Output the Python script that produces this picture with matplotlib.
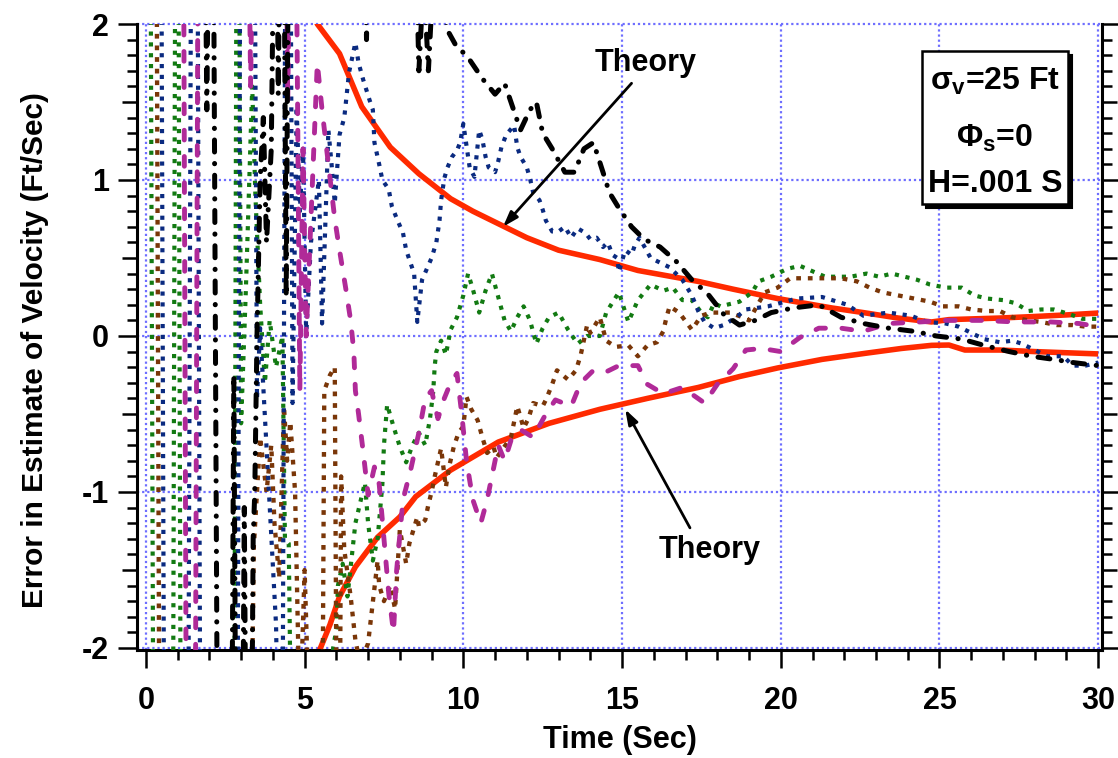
import numpy as np
import matplotlib
matplotlib.use("Agg")
import matplotlib.pyplot as plt
from matplotlib.ticker import MultipleLocator, FixedLocator, FuncFormatter
from matplotlib.patches import Rectangle

plt.rcParams['font.family'] = ['Liberation Sans', 'DejaVu Sans']
plt.rcParams['font.weight'] = 'bold'
plt.rcParams['mathtext.fontset'] = 'custom'
plt.rcParams['mathtext.rm'] = 'Liberation Sans:bold'
plt.rcParams['mathtext.it'] = 'Liberation Sans:bold'
plt.rcParams['mathtext.bf'] = 'Liberation Sans:bold'
plt.rcParams['mathtext.sf'] = 'Liberation Sans:bold'

# ---- theoretical error bounds (Ft/Sec) ----
theory_up_t = [5.3, 5.4, 6.1, 6.8, 7.7, 8.6, 9.6, 10.3, 11.1, 12.0, 13.0, 14.3, 15.5,
               17.4, 18.5, 19.9, 21.6, 22.6, 23.7, 24.75, 25.3, 26.9, 28.0, 29.0, 30.0]
theory_up = [2.07, 2.0, 1.81, 1.47, 1.21, 1.04, 0.88, 0.80, 0.72, 0.63, 0.55, 0.49, 0.42,
             0.35, 0.30, 0.24, 0.18, 0.15, 0.115, 0.09, 0.105, 0.115, 0.125, 0.135, 0.147]
theory_lo_t = [5.4, 5.8, 6.1, 6.6, 7.3, 8.0, 8.5, 9.6, 11.1, 12.7, 14.3, 15.8, 17.4,
               18.7, 19.9, 21.3, 22.7, 23.8, 24.75, 25.3, 25.8, 26.9, 28.0, 30.0]
theory_lo = [-2.05, -1.85, -1.67, -1.48, -1.29, -1.16, -1.03, -0.86, -0.68, -0.56, -0.47,
             -0.40, -0.33, -0.26, -0.205, -0.15, -0.11, -0.08, -0.06, -0.058, -0.09,
             -0.09, -0.10, -0.115]

# ---- simulation runs: (time, velocity error) ----
run_black = [
    (0.0, 3), (1.85, 3), (1.92, 1.45), (1.99, 3), (2.12, 3), (2.26, -3), (2.70, -3),
    (2.77, -0.25), (2.84, -3), (3.04, -3), (3.10, -1.1), (3.16, -3), (3.32, -3),
    (3.38, -1.3), (3.43, -1.0), (3.50, 0.0), (3.60, 1.0), (3.70, 1.4), (3.80, 0.6),
    (3.95, 1.2), (4.05, 3), (4.12, 3), (4.17, 1.55), (4.24, 3), (4.34, 3), (4.42, 0.25),
    (4.50, 3), (6.85, 3), (6.95, 1.9), (7.05, 3), (8.45, 3), (8.60, 1.7), (8.75, 2.3),
    (8.90, 1.7), (9.05, 2.3), (9.3, 2.2), (9.5, 1.96), (9.8, 1.85), (10.1, 1.8),
    (10.6, 1.65), (11.0, 1.55), (11.3, 1.62), (11.6, 1.44), (11.8, 1.32), (12.1, 1.45),
    (12.3, 1.5), (12.5, 1.3), (12.8, 1.2), (13.2, 1.05), (13.5, 1.05), (13.8, 1.2),
    (14.1, 1.24), (14.4, 1.05), (14.6, 0.92), (14.9, 0.82), (15.3, 0.70), (15.7, 0.62),
    (16.2, 0.57), (16.7, 0.48), (17.2, 0.36), (17.7, 0.27), (18.2, 0.14), (18.7, 0.07),
    (19.2, 0.10), (19.7, 0.15), (20.4, 0.18), (21.2, 0.20), (21.9, 0.12), (22.6, 0.08),
    (23.4, 0.05), (24.2, 0.03), (24.9, 0.0), (25.7, -0.02), (26.4, -0.06), (27.2, -0.10),
    (27.9, -0.13), (28.6, -0.15), (29.2, -0.17), (30.0, -0.19)]

run_navy = [
    (0, 3), (0.48, 3), (0.58, -3), (1.33, -3), (1.43, 3), (1.62, 3), (1.72, -3), (2.88, -3),
    (2.98, 3), (3.42, 3), (3.5, -0.4), (3.6, 0.05), (3.85, -0.9), (4.1, -1.85), (4.2, -3),
    (4.3, -3), (4.4, 3), (4.55, 3), (4.62, -0.43), (4.75, 1.47), (4.85, 0.8), (4.95, 1.2),
    (5.05, 0.0), (5.2, 0.6), (5.45, 1.0), (5.55, 0.08), (5.65, 0.7), (5.75, 1.32),
    (5.85, 1.1), (5.95, 0.85), (6.1, 1.29), (6.25, 1.4), (6.4, 1.69), (6.6, 1.88),
    (6.7, 1.75), (6.85, 1.64), (7.05, 1.51), (7.15, 1.45), (7.2, 1.24), (7.35, 1.1),
    (7.45, 1.0), (7.65, 0.94), (7.75, 0.83), (7.95, 0.73), (8.1, 0.66), (8.2, 0.55),
    (8.45, 0.4), (8.55, 0.09), (8.7, 0.36), (8.85, 0.43), (9.0, 0.5), (9.15, 0.6),
    (9.25, 0.74), (9.3, 0.87), (9.4, 1.01), (9.5, 1.08), (9.65, 1.15), (9.8, 1.19),
    (9.9, 1.24), (10.0, 1.36), (10.1, 1.22), (10.2, 1.08), (10.35, 1.02), (10.5, 1.32),
    (10.6, 1.26), (10.7, 1.15), (10.8, 1.08), (11.0, 1.05), (11.1, 1.12), (11.2, 1.21),
    (11.35, 1.29), (11.6, 1.35), (11.7, 1.21), (11.8, 1.15), (12.0, 1.08), (12.1, 1.01),
    (12.2, 0.92), (12.4, 0.87), (12.5, 0.81), (12.6, 0.74), (12.8, 0.67), (13.0, 0.67),
    (13.2, 0.70), (13.4, 0.63), (13.6, 0.69), (13.85, 0.66), (14.0, 0.62), (14.2, 0.63),
    (14.4, 0.57), (14.55, 0.60), (14.7, 0.52), (14.85, 0.50), (14.9, 0.41), (15.1, 0.55),
    (15.3, 0.52), (15.4, 0.58), (15.55, 0.63), (15.9, 0.50), (16.5, 0.44), (16.9, 0.36),
    (17.2, 0.26), (17.4, 0.16), (17.6, 0.09), (17.9, 0.05), (18.2, 0.07), (18.6, 0.12),
    (18.9, 0.17), (19.6, 0.19), (20.5, 0.24), (21.3, 0.25), (22.1, 0.20), (22.6, 0.13),
    (23.4, 0.15), (24.1, 0.13), (24.6, 0.09), (25.2, 0.08), (25.6, 0.06), (26.0, 0.02),
    (26.4, -0.02), (26.9, -0.04), (27.3, -0.03), (27.6, -0.05), (28.0, -0.09),
    (28.4, -0.13), (28.9, -0.13), (29.2, -0.19), (29.6, -0.19), (30.0, -0.17)]

run_green = [
    (0, 3), (0.14, 3), (0.24, -3), (0.85, -3), (0.93, 3), (1.02, 3), (1.1, -3), (2.78, -3),
    (2.86, 3), (2.93, 3), (3.0, -0.56), (3.15, 0.3), (3.35, 1.6), (3.45, 0.9), (3.6, 0.2),
    (3.75, -0.3), (3.9, 0.1), (4.1, -0.2), (4.3, 0.0), (4.38, -1.3), (4.5, -1.33),
    (4.6, -3), (5.8, -3), (5.9, -2.0), (6.0, -1.88), (6.05, -1.6), (6.2, -1.46),
    (6.35, -1.67), (6.6, -1.2), (6.75, -1.07), (6.9, -0.94), (7.0, -1.2), (7.15, -1.44),
    (7.3, -1.3), (7.45, -0.95), (7.5, -0.7), (7.6, -0.44), (7.8, -0.58), (8.0, -0.71),
    (8.2, -0.81), (8.4, -0.70), (8.6, -0.62), (8.8, -0.70), (8.95, -0.53), (9.05, -0.36),
    (9.1, -0.19), (9.15, -0.10), (9.3, -0.03), (9.45, -0.12), (9.6, 0.04), (9.8, 0.12),
    (10.0, 0.26), (10.15, 0.40), (10.3, 0.30), (10.5, 0.15), (10.7, 0.29), (10.9, 0.40),
    (11.1, 0.25), (11.3, 0.10), (11.5, 0.03), (11.7, 0.12), (11.9, 0.19), (12.1, 0.10),
    (12.3, -0.05), (12.5, 0.05), (12.7, 0.12), (13.0, 0.15), (13.3, 0.04), (13.6, -0.05),
    (13.9, 0.0), (14.3, 0.0), (14.5, 0.15), (14.9, 0.28), (15.2, 0.09), (15.5, 0.23),
    (15.9, 0.33), (16.3, 0.29), (16.6, 0.31), (16.9, 0.23), (17.2, 0.23), (17.5, 0.15),
    (17.7, 0.12), (17.9, 0.21), (18.1, 0.19), (18.7, 0.22), (19.1, 0.28), (19.3, 0.35),
    (19.7, 0.38), (20.2, 0.43), (20.6, 0.45), (21.4, 0.38), (22.2, 0.38), (22.7, 0.40),
    (23.1, 0.38), (23.5, 0.40), (23.9, 0.38), (24.3, 0.36), (24.7, 0.33), (25.2, 0.31),
    (25.7, 0.31), (26.1, 0.26), (26.5, 0.24), (27.0, 0.23), (27.4, 0.21), (27.8, 0.16),
    (28.2, 0.17), (28.6, 0.17), (29.1, 0.14), (29.5, 0.11), (30.0, 0.11)]

run_brown = [
    (0, 3), (0.33, 3), (0.43, -3), (3.3, -3), (3.4, -1.35), (3.6, -0.65), (3.8, -1.0),
    (3.95, -0.7), (4.05, -1.2), (4.2, -1.55), (4.35, -0.45), (4.45, -0.8), (4.55, -0.55),
    (4.7, -1.0), (4.85, -2.5), (5.0, -1.5), (5.15, -2.5), (5.4, -3), (5.55, -3),
    (5.62, -0.35), (5.8, -0.25), (5.95, -0.2), (6.02, -3), (6.1, -3), (6.15, -0.9),
    (6.25, -1.37), (6.45, -1.67), (6.6, -1.95), (6.75, -2.1), (7.0, -1.97), (7.3, -1.44),
    (7.35, -1.6), (7.5, -1.7), (7.7, -1.6), (7.85, -1.75), (8.0, -1.24), (8.2, -1.46),
    (8.3, -1.33), (8.55, -1.16), (8.6, -1.22), (8.8, -1.18), (8.9, -1.08), (9.0, -1.0),
    (9.1, -0.9), (9.3, -0.72), (9.45, -0.97), (9.55, -0.84), (9.7, -0.71), (9.85, -0.62),
    (10.0, -0.58), (10.1, -0.39), (10.25, -0.47), (10.45, -0.54), (10.6, -0.65),
    (10.75, -0.75), (10.95, -0.71), (11.05, -0.78), (11.5, -0.65), (11.6, -0.55),
    (11.7, -0.45), (11.9, -0.59), (12.05, -0.53), (12.2, -0.43), (12.5, -0.45),
    (12.6, -0.41), (12.8, -0.31), (12.95, -0.22), (13.3, -0.28), (13.55, -0.22),
    (13.7, -0.12), (13.9, 0.07), (14.0, 0.02), (14.3, 0.12), (14.5, -0.03), (14.8, -0.07),
    (15.2, -0.06), (15.5, -0.13), (15.8, -0.06), (16.1, -0.04), (16.3, 0.03), (16.4, 0.12),
    (16.5, 0.19), (16.8, 0.15), (17.2, 0.04), (17.5, 0.13), (17.8, 0.15), (18.4, 0.15),
    (18.8, 0.12), (19.0, 0.10), (19.3, 0.21), (19.5, 0.28), (19.9, 0.31), (20.3, 0.37),
    (20.9, 0.37), (21.9, 0.37), (22.4, 0.35), (22.8, 0.31), (23.2, 0.28), (23.7, 0.26),
    (24.2, 0.24), (24.7, 0.22), (25.1, 0.19), (25.6, 0.19), (26.0, 0.17), (26.5, 0.16),
    (26.9, 0.16), (27.3, 0.12), (27.8, 0.10), (28.2, 0.09), (28.7, 0.07), (29.2, 0.07),
    (29.6, 0.06), (30.0, 0.06)]

run_magenta = [
    (0, 3), (1.18, 3), (1.28, -3), (1.55, -3), (1.65, 3), (3.22, 3), (3.3, 1.6), (3.38, 3),
    (4.4, 3), (4.47, 1.5), (4.55, 3), (4.72, 3), (4.85, -0.35), (4.95, 1.2), (5.05, 0.0),
    (5.25, 1.0), (5.4, 1.75), (5.55, 1.45), (5.75, 1.1), (5.95, 0.75), (6.1, 0.55),
    (6.3, 0.3), (6.45, 0.1), (6.55, -0.1), (6.6, -0.35), (6.7, -0.5), (6.85, -0.75),
    (7.0, -1.02), (7.2, -0.84), (7.35, -0.95), (7.5, -1.3), (7.65, -1.65), (7.8, -1.9),
    (7.9, -1.5), (8.1, -1.05), (8.35, -0.85), (8.6, -0.62), (8.8, -0.4), (9.0, -0.35),
    (9.2, -0.53), (9.4, -0.4), (9.6, -0.3), (9.8, -0.24), (9.95, -0.5), (10.1, -0.8),
    (10.3, -1.05), (10.55, -1.2), (10.75, -1.05), (10.9, -0.9), (11.1, -0.7), (11.3, -0.8),
    (11.5, -0.67), (11.8, -0.6), (12.2, -0.65), (12.6, -0.5), (12.9, -0.41), (13.4, -0.45),
    (13.7, -0.3), (14.1, -0.22), (14.5, -0.23), (14.9, -0.19), (15.5, -0.19), (15.8, -0.31),
    (16.3, -0.37), (16.9, -0.33), (17.6, -0.43), (18.0, -0.31), (18.5, -0.21),
    (18.9, -0.09), (19.4, -0.08), (20.0, -0.10), (20.6, -0.01), (21.2, 0.05), (21.9, 0.05),
    (22.6, 0.03), (23.4, 0.08), (24.4, 0.09), (25.2, 0.10), (26.3, 0.10), (27.4, 0.09),
    (28.5, 0.09), (29.4, 0.08), (30.0, 0.06)]

x_ticks = [0, 5, 10, 15, 20, 25, 30]
y_ticks = [-2, -1, 0, 1, 2]

W, H = 1118, 758
fig = plt.figure(figsize=(W / 100, H / 100), dpi=100)
ax = fig.add_axes([137 / W, 1 - 650 / H, 965 / W, 626 / H])
ax.set_xlim(-0.28, 30.12)
ax.set_ylim(-2.013, 2.0)

grid_kw = dict(color='#6e6eff', lw=1.6, linestyle=(0, (1.0, 1.3)), zorder=0.5, clip_on=False)
for xv in x_ticks:
    ax.axvline(xv, **grid_kw)
for yv in y_ticks:
    ax.axhline(yv, **grid_kw)

# theory bounds
red = '#ff2a00'
ax.plot(theory_up_t, theory_up, color=red, lw=4.0, zorder=2, solid_capstyle='butt')
ax.plot(theory_lo_t, theory_lo, color=red, lw=4.0, zorder=2, solid_capstyle='butt')

def draw(run, **kw):
    t, v = np.array(run, dtype=float).T
    ax.plot(t, v, **kw)

draw(run_green, color='#127a12', lw=3.0, linestyle=(0, (1.0, 1.6)), zorder=3)
draw(run_brown, color='#7a3608', lw=3.1, linestyle=(0, (1.1, 1.6)), zorder=3.1)
draw(run_navy, color='#0a2a80', lw=3.0, linestyle=(0, (1.0, 1.6)), zorder=3.2)
draw(run_magenta, color='#b02a98', lw=3.5, linestyle=(0, (2.0, 3.4)),
     dash_capstyle='round', zorder=3.3)
draw(run_black, color='black', lw=3.6, linestyle=(0, (2.4, 2.3, 0.05, 2.3)),
     dash_capstyle='round', zorder=3.4)

# axes frame and ticks
ax.spines['top'].set_visible(False)
for s in ('left', 'right', 'bottom'):
    ax.spines[s].set_linewidth(2.2)

ax.xaxis.set_major_locator(FixedLocator(x_ticks))
ax.xaxis.set_minor_locator(MultipleLocator(1))
y_major = list(np.arange(-2, 2.01, 0.5))
ax.yaxis.set_major_locator(FixedLocator(y_major))
ax.yaxis.set_minor_locator(MultipleLocator(0.1))
ax.yaxis.set_major_formatter(FuncFormatter(
    lambda v, p: f"{int(round(v))}" if abs(v - round(v)) < 1e-6 else ""))
ax.xaxis.set_major_formatter(FuncFormatter(lambda v, p: f"{int(round(v))}"))

ax.tick_params(axis='y', which='major', direction='out', length=14, width=1.8,
               left=True, right=True, labelsize=22, pad=6)
ax.tick_params(axis='y', which='minor', direction='out', length=7, width=1.8,
               left=True, right=True)
ax.tick_params(axis='x', which='major', direction='out', length=13, width=1.8,
               top=False, labelsize=22, pad=13)
ax.tick_params(axis='x', which='minor', direction='out', length=7.5, width=1.8, top=False)

for i, tk in enumerate(ax.yaxis.get_major_ticks(len(y_major))):
    if i % 2 == 1:
        tk.tick1line.set_markersize(10.5)
        tk.tick2line.set_markersize(10.5)

fig.text(620 / W, 1 - 740 / H, 'Time (Sec)', ha='center', va='center', fontsize=22)
fig.text(35 / W, 1 - 350 / H, 'Error in Estimate of Velocity (Ft/Sec)', ha='center',
         va='center', rotation=90, fontsize=21.5)

# annotations pointing at the theory bounds
arrow_kw = dict(arrowstyle='-|>,head_length=0.9,head_width=0.3', color='black', lw=2.0,
                shrinkA=0, shrinkB=0)
ax.text(15.73, 1.75, 'Theory', ha='center', va='center', fontsize=22, zorder=6)
ax.annotate('', xy=(11.25, 0.70), xytext=(15.3, 1.62), arrowprops=arrow_kw, zorder=6)
ax.text(17.77, -1.37, 'Theory', ha='center', va='center', fontsize=22, zorder=6)
ax.annotate('', xy=(15.1, -0.47), xytext=(17.14, -1.23), arrowprops=arrow_kw, zorder=6)

# parameter box with drop shadow
bx0, bx1, by0, by1 = 922, 1068, 51, 204
fig.add_artist(Rectangle(((bx0 + 4) / W, 1 - (by1 + 4) / H), (bx1 - bx0) / W,
                         (by1 - by0) / H, transform=fig.transFigure,
                         facecolor='black', edgecolor='black', lw=1.5, zorder=4))
fig.add_artist(Rectangle((bx0 / W, 1 - by1 / H), (bx1 - bx0) / W, (by1 - by0) / H,
                         transform=fig.transFigure, facecolor='white',
                         edgecolor='black', lw=1.8, zorder=5))
cx = 995 / W
fig.text(cx, 1 - 90 / H, r'$\sigma_v$=25 Ft', ha='center', va='baseline', fontsize=23, zorder=6)
fig.text(cx, 1 - 147 / H, r'$\Phi_s$=0', ha='center', va='baseline', fontsize=23, zorder=6)
fig.text(cx, 1 - 192 / H, 'H=.001 S', ha='center', va='baseline', fontsize=23, zorder=6)

fig.savefig('out.png', dpi=100)
